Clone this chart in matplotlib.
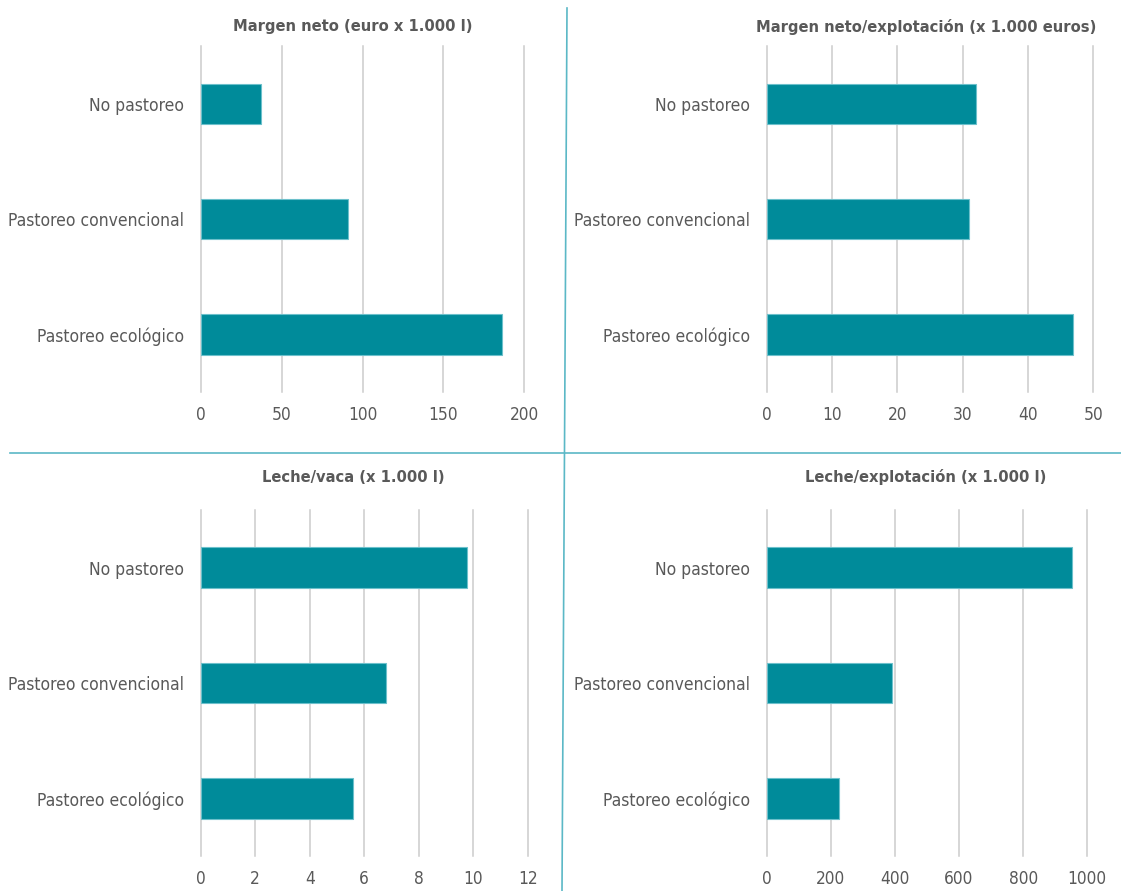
import matplotlib.pyplot as plt
from matplotlib.lines import Line2D

plt.rcParams['font.family'] = ['DejaVu Sans']
plt.rcParams['font.stretch'] = 'condensed'

categories = ['No pastoreo', 'Pastoreo convencional', 'Pastoreo ecológico']

margen_litro = [37, 91, 186]
margen_explot = [32.0, 31.0, 46.9]
leche_vaca = [9.78, 6.8, 5.6]
leche_explot = [951, 391, 224]

titles = ['Margen neto (euro x 1.000 l)',
          'Margen neto/explotación (x 1.000 euros)',
          'Leche/vaca (x 1.000 l)',
          'Leche/explotación (x 1.000 l)']
xticks = [[0, 50, 100, 150, 200],
          [0, 10, 20, 30, 40, 50],
          [0, 2, 4, 6, 8, 10, 12],
          [0, 200, 400, 600, 800, 1000]]
series = [margen_litro, margen_explot, leche_vaca, leche_explot]

W, H = 1121, 891
bar_color = '#008b9a'
text_color = '#595959'
line_color = '#5bb8c6'

fig = plt.figure(figsize=(W / 100, H / 100), dpi=100)

# axes boxes in pixels: left, right, top, bottom
boxes = [(200.7, 524.3, 46.5, 392),
         (766.7, 1093.3, 46.5, 392),
         (200.7, 527.7, 510, 856),
         (766.7, 1087.3, 510, 856)]
title_x = [353, 926, 353, 926]
title_y = [27, 27, 477, 477]

for i, (l, r, t, b) in enumerate(boxes):
    ax = fig.add_axes([l / W, 1 - b / H, (r - l) / W, (b - t) / H])
    y = range(len(categories))
    ax.barh(y, series[i], height=0.35, color=bar_color,
            edgecolor='#6cc0cb', linewidth=0.8, zorder=3)
    ax.set_ylim(len(categories) - 0.5, -0.5)
    ax.set_xlim(xticks[i][0], xticks[i][-1])
    ax.set_yticks(list(y))
    ax.set_yticklabels(categories)
    ax.set_xticks(xticks[i])
    ax.tick_params(axis='y', length=0, pad=12, labelsize=12.5, labelcolor=text_color)
    ax.tick_params(axis='x', length=0, pad=10, labelsize=12.4, labelcolor=text_color)
    ax.grid(axis='x', color='#cccccc', linewidth=1.1, zorder=0)
    for s in ax.spines.values():
        s.set_visible(False)
    for gl in ax.get_xgridlines():
        gl.set_clip_on(False)
    fig.text(title_x[i] / W, 1 - title_y[i] / H, titles[i], ha='center', va='center',
             fontsize=11.8, fontweight='bold', color=text_color)

# separator lines between the four panels
fig.add_artist(Line2D([567 / W, 562 / W], [1 - 8 / H, 0], color=line_color, linewidth=1.2))
fig.add_artist(Line2D([10 / W, 1], [1 - 453 / H, 1 - 453 / H], color=line_color, linewidth=1.2))

fig.savefig('out.png', dpi=100, facecolor='white')
